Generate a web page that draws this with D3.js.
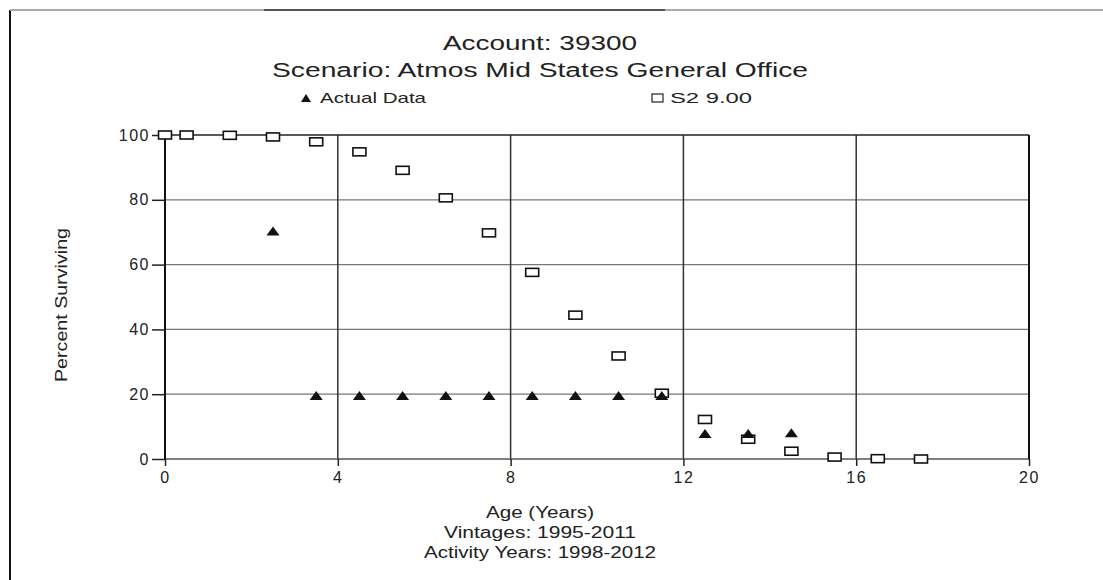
<!DOCTYPE html>
<html>
<head>
<meta charset="utf-8">
<script src="https://cdn.jsdelivr.net/npm/d3@7"></script>
<style>
  html, body { margin: 0; padding: 0; background: #fff; }
  svg { display: block; font-family: "Liberation Sans", Arial, sans-serif; }
</style>
</head>
<body>
<svg id="chart" width="1103" height="580"></svg>
<script>
// Observed retirement data (Actual Data)
const actualAge = [2.5, 3.5, 4.5, 5.5, 6.5, 7.5, 8.5, 9.5, 10.5, 11.5, 12.5, 13.5, 14.5];
const actualPct = [70.4, 19.6, 19.6, 19.6, 19.6, 19.6, 19.6, 19.6, 19.6, 19.6, 7.9, 7.9, 8.1];

// Fitted Iowa curve S2, average life 9.00
const curveAge = [0, 0.5, 1.5, 2.5, 3.5, 4.5, 5.5, 6.5, 7.5, 8.5, 9.5, 10.5, 11.5, 12.5, 13.5, 14.5, 15.5, 16.5, 17.5];
const curvePct = [100, 100, 99.9, 99.4, 97.9, 94.8, 89.1, 80.6, 69.8, 57.6, 44.4, 31.8, 20.3, 12.2, 6.1, 2.4, 0.6, 0.1, 0.0];

const xTicks = [0, 4, 8, 12, 16, 20];
const yTicks = [0, 20, 40, 60, 80, 100];

const titleLines = ["Account: 39300", "Scenario: Atmos Mid States General Office"];
const legendLabels = ["Actual Data", "S2 9.00"];
const xTitleLines = ["Age (Years)", "Vintages: 1995-2011", "Activity Years: 1998-2012"];
const yTitle = "Percent Surviving";

const svg = d3.select("#chart");

const x = d3.scaleLinear().domain([0, 20]).range([165, 1029]);
const y = d3.scaleLinear().domain([0, 100]).range([459, 135]);

// page border (left and top edges of the frame)
svg.append("line").attr("x1", 10).attr("x2", 10).attr("y1", 10).attr("y2", 580)
  .attr("stroke", "#111").attr("stroke-width", 2);
svg.append("line").attr("x1", 10).attr("x2", 1103).attr("y1", 10).attr("y2", 10)
  .attr("stroke", "#aaa").attr("stroke-width", 2);
svg.append("line").attr("x1", 264).attr("x2", 665).attr("y1", 10).attr("y2", 10)
  .attr("stroke", "#555").attr("stroke-width", 2);

// titles
const titleY = [50, 77];
const titleW = [194, 536];
titleLines.forEach((t, i) => {
  svg.append("text").attr("x", 540).attr("y", titleY[i])
    .attr("text-anchor", "middle").attr("font-size", 20).attr("fill", "#222")
    .attr("textLength", titleW[i]).attr("lengthAdjust", "spacingAndGlyphs")
    .text(t);
});

// grid
const grid = svg.append("g");
grid.selectAll("line.h").data(yTicks.slice(1, -1)).join("line")
  .attr("x1", x(0)).attr("x2", x(20))
  .attr("y1", d => y(d)).attr("y2", d => y(d))
  .attr("stroke", "#777").attr("stroke-width", 1.2);
grid.selectAll("line.v").data(xTicks.slice(1, -1)).join("line")
  .attr("x1", d => x(d)).attr("x2", d => x(d))
  .attr("y1", y(100)).attr("y2", y(0))
  .attr("stroke", "#333").attr("stroke-width", 1.5);

// frame
svg.append("line").attr("x1", x(0)).attr("x2", x(20)).attr("y1", y(100)).attr("y2", y(100))
  .attr("stroke", "#222").attr("stroke-width", 1.5);
svg.append("line").attr("x1", x(0)).attr("x2", x(20)).attr("y1", y(0)).attr("y2", y(0))
  .attr("stroke", "#555").attr("stroke-width", 1.5);
svg.append("line").attr("x1", x(20)).attr("x2", x(20)).attr("y1", y(100)).attr("y2", y(0))
  .attr("stroke", "#111").attr("stroke-width", 2);
svg.append("line").attr("x1", x(0)).attr("x2", x(0)).attr("y1", y(100)).attr("y2", y(0))
  .attr("stroke", "#111").attr("stroke-width", 2);

// axes
const yAxis = svg.append("g").attr("transform", `translate(${x(0)},0)`)
  .call(d3.axisLeft(y).tickValues(yTicks).tickSize(13).tickPadding(2));
const xAxis = svg.append("g").attr("transform", `translate(0,${y(0)})`)
  .call(d3.axisBottom(x).tickValues(xTicks).tickSize(7).tickPadding(6));
[yAxis, xAxis].forEach(a => {
  a.select(".domain").remove();
  a.selectAll(".tick line").attr("stroke", "#222").attr("stroke-width", 1.5);
  a.selectAll(".tick text").attr("font-family", "Liberation Sans, Arial, sans-serif")
    .attr("font-size", 16).attr("fill", "#222").attr("letter-spacing", 1.5);
});

// axis titles
const xTitleY = [518, 538, 558];
const xTitleW = [108, 192, 232];
xTitleLines.forEach((t, i) => {
  svg.append("text").attr("x", 540).attr("y", xTitleY[i])
    .attr("text-anchor", "middle").attr("font-size", 16).attr("fill", "#222")
    .attr("textLength", xTitleW[i]).attr("lengthAdjust", "spacingAndGlyphs")
    .text(t);
});
svg.append("text").attr("transform", "translate(67,305) rotate(-90)")
  .attr("text-anchor", "middle").attr("font-size", 16).attr("fill", "#222")
  .attr("textLength", 154).attr("lengthAdjust", "spacingAndGlyphs")
  .text(yTitle);

// marker shapes
const tri = (cx, cy, w, h) => `M${cx - w / 2},${cy + h / 2}L${cx},${cy - h / 2}L${cx + w / 2},${cy + h / 2}Z`;

// fitted curve squares
svg.append("g").selectAll("rect").data(d3.range(curveAge.length)).join("rect")
  .attr("x", i => x(curveAge[i]) - 6.5).attr("y", i => y(curvePct[i]) - 4)
  .attr("width", 13).attr("height", 8)
  .attr("fill", "#fff").attr("stroke", "#111").attr("stroke-width", 1.6);

// actual data triangles
svg.append("g").selectAll("path").data(d3.range(actualAge.length)).join("path")
  .attr("d", i => tri(x(actualAge[i]), y(actualPct[i]), 13, 9))
  .attr("fill", "#111");

// legend
svg.append("path").attr("d", tri(306, 98, 10, 8)).attr("fill", "#111");
svg.append("text").attr("x", 320).attr("y", 103).attr("font-size", 15).attr("fill", "#222")
  .attr("textLength", 106).attr("lengthAdjust", "spacingAndGlyphs").text(legendLabels[0]);
svg.append("rect").attr("x", 652).attr("y", 94).attr("width", 11).attr("height", 8)
  .attr("fill", "#fff").attr("stroke", "#222").attr("stroke-width", 1.2);
svg.append("text").attr("x", 670).attr("y", 103).attr("font-size", 15).attr("fill", "#222")
  .attr("textLength", 82).attr("lengthAdjust", "spacingAndGlyphs").text(legendLabels[1]);
</script>
</body>
</html>
